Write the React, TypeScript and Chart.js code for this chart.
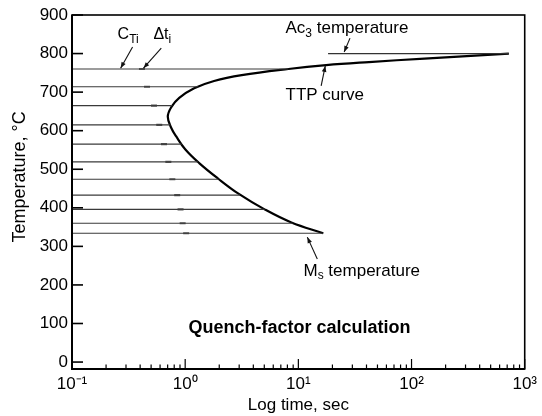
import React, { useEffect, useRef } from 'react';
import { Chart, registerables } from 'chart.js';

Chart.register(...registerables);

// ---- data ----
const yTickValues = [0, 100, 200, 300, 400, 500, 600, 700, 800, 900];
const xTickValues = [0.1, 1, 10, 100, 1000];
const xTickLabels = ['10⁻¹', '10⁰', '10¹', '10²', '10³'];

// TTP curve, from the Ms tip up around the nose to the Ac3 end
const curveTime = [16.6, 8.68, 5.03, 2.98, 1.95, 1.33, 1.0, 0.834, 0.754, 0.702, 0.754, 0.886, 1.2, 1.8, 3.16, 8.17, 17.6, 42, 130, 724];
const curveTemp = [334, 362, 396, 436, 476, 516, 552, 585, 607, 636, 661, 685, 710, 729, 744, 760, 770, 778, 787, 800];

// horizontal cooling steps (temperature, end time where they meet the curve)
const stepTemps = [760, 714, 665, 615, 565, 519, 474, 433, 396, 360, 334];
const stepEnds = [8.17, 1.3, 0.77, 0.74, 0.93, 1.29, 1.97, 3.05, 5.03, 8.9, 16.6];
const stepStart = 0.1;
// small Δt marks on each step
const dashTimes = [0.415, 0.46, 0.53, 0.59, 0.65, 0.71, 0.77, 0.85, 0.91, 0.95, 1.02];

// Ac3 temperature line
const ac3Times = [18.3, 724];
const ac3Temp = 800;

const yTitle = 'Temperature, °C';
const xTitle = 'Log time, sec';

const FONT = "'Liberation Sans', Arial, Helvetica, sans-serif";

type Part = { text: string; size: number; dy?: number; bold?: boolean };
type Note = { t: number; T: number; parts: Part[] };
type Arrow = { t0: number; T0: number; t1: number; T1: number };

const notes: Note[] = [
  { t: 0.253, T: 838, parts: [{ text: 'C', size: 16 }, { text: 'Ti', size: 12, dy: 4 }] },
  { t: 0.524, T: 838, parts: [{ text: 'Δt', size: 16 }, { text: 'i', size: 12, dy: 4 }] },
  { t: 7.7, T: 853, parts: [{ text: 'Ac', size: 17 }, { text: '3', size: 12, dy: 4 }, { text: ' temperature', size: 17 }] },
  { t: 7.7, T: 679, parts: [{ text: 'TTP curve', size: 17 }] },
  { t: 11.1, T: 223, parts: [{ text: 'M', size: 17 }, { text: 's', size: 12, dy: 3 }, { text: ' temperature', size: 17 }] },
  { t: 1.07, T: 75, parts: [{ text: 'Quench-factor calculation', size: 18, bold: true }] },
];

const arrows: Arrow[] = [
  { t0: 0.343, T0: 817, t1: 0.269, T1: 762 },
  { t0: 0.615, T0: 814, t1: 0.428, T1: 762 },
  { t0: 28.6, T0: 840, t1: 25.4, T1: 804 },
  { t0: 15.9, T0: 716, t1: 17.3, T1: 768 },
  { t0: 14.7, T0: 267, t1: 12.0, T1: 324 },
];

const overlayPlugin = {
  id: 'overlay',
  beforeDraw(chart: any) {
    const ctx = chart.ctx;
    ctx.save();
    ctx.fillStyle = '#ffffff';
    ctx.fillRect(0, 0, chart.width, chart.height);
    ctx.restore();
  },
  afterDraw(chart: any) {
    const ctx = chart.ctx;
    const xs = chart.scales.x;
    const ys = chart.scales.y;
    const { left, right, top, bottom } = chart.chartArea;
    ctx.save();
    // frame
    ctx.strokeStyle = '#000';
    ctx.lineWidth = 1.6;
    ctx.strokeRect(left, top, right - left, bottom - top);
    ctx.lineWidth = 2;
    ctx.beginPath();
    ctx.moveTo(left, top);
    ctx.lineTo(left, bottom);
    ctx.lineTo(right, bottom);
    ctx.stroke();
    // y ticks (inward)
    ctx.lineWidth = 1.6;
    for (const v of yTickValues) {
      const py = ys.getPixelForValue(v);
      ctx.beginPath();
      ctx.moveTo(left, py);
      ctx.lineTo(left + 11, py);
      ctx.stroke();
    }
    // x ticks (inward), majors and minors
    ctx.lineWidth = 1.2;
    for (let d = 0; d < xTickValues.length; d++) {
      const base = xTickValues[d];
      const px = xs.getPixelForValue(base);
      ctx.beginPath();
      ctx.moveTo(px, bottom);
      ctx.lineTo(px, bottom - 10);
      ctx.stroke();
      if (d < xTickValues.length - 1) {
        for (let m = 2; m <= 9; m++) {
          const mx = xs.getPixelForValue(base * m);
          ctx.beginPath();
          ctx.moveTo(mx, bottom);
          ctx.lineTo(mx, bottom - 4.5);
          ctx.stroke();
        }
      }
    }
    // arrows
    ctx.strokeStyle = '#111';
    ctx.fillStyle = '#111';
    ctx.lineWidth = 1.1;
    for (const a of arrows) {
      const x0 = xs.getPixelForValue(a.t0);
      const y0 = ys.getPixelForValue(a.T0);
      const x1 = xs.getPixelForValue(a.t1);
      const y1 = ys.getPixelForValue(a.T1);
      ctx.beginPath();
      ctx.moveTo(x0, y0);
      ctx.lineTo(x1, y1);
      ctx.stroke();
      const ang = Math.atan2(y1 - y0, x1 - x0);
      const L = 6;
      const W = 2.3;
      const bx = x1 - L * Math.cos(ang);
      const by = y1 - L * Math.sin(ang);
      ctx.beginPath();
      ctx.moveTo(x1, y1);
      ctx.lineTo(bx + W * Math.sin(ang), by - W * Math.cos(ang));
      ctx.lineTo(bx - W * Math.sin(ang), by + W * Math.cos(ang));
      ctx.closePath();
      ctx.fill();
    }
    // notes
    ctx.fillStyle = '#000';
    ctx.textBaseline = 'alphabetic';
    ctx.textAlign = 'left';
    for (const n of notes) {
      let x = xs.getPixelForValue(n.t);
      const y = ys.getPixelForValue(n.T);
      for (const p of n.parts) {
        ctx.font = `${p.bold ? '900 ' : ''}${p.size}px ${FONT}`;
        ctx.fillText(p.text, x, y + (p.dy || 0));
        x += ctx.measureText(p.text).width;
      }
    }
    // y axis title
    ctx.save();
    ctx.translate(20, ys.getPixelForValue(480));
    ctx.rotate(-Math.PI / 2);
    ctx.textAlign = 'center';
    ctx.textBaseline = 'middle';
    ctx.font = `18px ${FONT}`;
    ctx.fillText(yTitle, 0, 0);
    ctx.restore();
    ctx.restore();
  },
};

export default function App() {
  const ref = useRef<HTMLCanvasElement | null>(null);

  useEffect(() => {
    if (!ref.current) return;
    const datasets: any[] = [];

    stepTemps.forEach((T, i) => {
      datasets.push({
        label: `step ${T}`,
        data: [
          { x: stepStart, y: T },
          { x: stepEnds[i], y: T },
        ],
        showLine: true,
        borderColor: '#3a3a3a',
        borderWidth: 1.2,
        pointRadius: 0,
      });
    });

    datasets.push({
      label: 'Δt marks',
      data: dashTimes.map((t, i) => ({ x: t, y: stepTemps[i] })),
      showLine: false,
      pointStyle: 'line',
      pointRadius: 3,
      borderColor: '#555',
      borderWidth: 2.2,
    });

    datasets.push({
      label: 'Ac3',
      data: ac3Times.map((t) => ({ x: t, y: ac3Temp })),
      showLine: true,
      borderColor: '#333',
      borderWidth: 1.3,
      pointRadius: 0,
    });

    datasets.push({
      label: 'TTP curve',
      data: curveTime.map((t, i) => ({ x: t, y: curveTemp[i] })),
      showLine: true,
      borderColor: '#000',
      borderWidth: 2.2,
      pointRadius: 0,
      tension: 0.4,
    });

    const chart = new Chart(ref.current, {
      type: 'scatter',
      data: { datasets },
      options: {
        animation: false,
        responsive: false,
        layout: { padding: { left: 0, right: 15, top: 15, bottom: 0 } },
        plugins: {
          legend: { display: false },
          tooltip: { enabled: false },
        },
        scales: {
          x: {
            type: 'logarithmic',
            min: 0.1,
            max: 1000,
            grid: { display: false, drawTicks: false },
            border: { display: false },
            afterBuildTicks: (s: any) => {
              s.ticks = xTickValues.map((v) => ({ value: v, major: true }));
            },
            afterFit: (s: any) => {
              s.height = 47;
            },
            ticks: {
              autoSkip: false,
              maxRotation: 0,
              padding: 5,
              color: '#000',
              font: { family: FONT, size: 17 },
              callback: (v: any) => {
                const i = xTickValues.findIndex((t) => Math.abs(t - Number(v)) / t < 1e-6);
                return i >= 0 ? xTickLabels[i] : '';
              },
            },
            title: {
              display: true,
              text: xTitle,
              color: '#000',
              font: { family: FONT, size: 17 },
              padding: { top: 0, bottom: 0 },
            },
          },
          y: {
            type: 'linear',
            min: -18,
            max: 900,
            grid: { display: false, drawTicks: false },
            border: { display: false },
            afterBuildTicks: (s: any) => {
              s.ticks = yTickValues.map((v) => ({ value: v }));
            },
            afterFit: (s: any) => {
              s.width = 72;
            },
            ticks: {
              padding: 4,
              color: '#000',
              font: { family: FONT, size: 17 },
            },
            title: { display: false },
          },
        },
      },
      plugins: [overlayPlugin],
    } as any);

    return () => chart.destroy();
  }, []);

  return (
    <div style={{ position: 'absolute', left: 0, top: 0, width: 542, height: 416, background: '#fff' }}>
      <canvas ref={ref} width={542} height={416} style={{ display: 'block' }} />
    </div>
  );
}
